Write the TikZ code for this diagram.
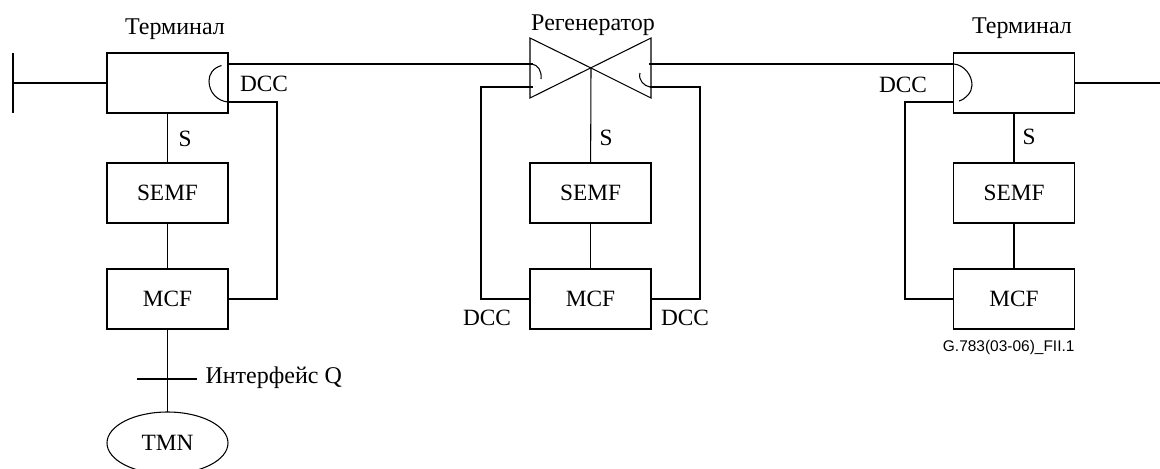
\documentclass[tikz,border=0pt]{standalone}
\usepackage{fontspec}
\setmainfont{Liberation Serif}
\newfontfamily\figfont{Liberation Sans}
\newcommand{\boxfont}{\fontsize{17.5}{20}\selectfont}
\usetikzlibrary{positioning, shapes.geometric}

\begin{document}
\begin{tikzpicture}[
  x=0.75pt, y=-0.75pt,
  line width=0.8pt,
  node distance=37.5pt and 0pt,
  box/.style={draw, outer sep=0pt, minimum width=90.75pt, minimum height=45pt, inner sep=0pt, font=\boxfont},
  oval/.style={draw, ellipse, outer sep=0pt, minimum width=90.75pt, minimum height=46.5pt, inner sep=0pt, font=\boxfont},
  lbl/.style={inner sep=0pt, font=\boxfont},
  cyr/.style={inner sep=0pt, font=\fontsize{18}{20}\selectfont}
]
\useasboundingbox (0,0) rectangle (1160,468);

% left terminal
\node[box] (termA) at (167.5,83) {};
\node[box, below=of termA] (semfA) {SEMF};
\node[box, below=34.5pt of semfA] (mcfA) {MCF};
\node[oval] (tmn) at (167.5,443) {TMN};
\coordinate (barT) at (13,53);
\coordinate (barB) at (13,113);
\coordinate (barA) at (13,83);
\coordinate (qA) at (137,379);
\coordinate (qB) at (197,379);
\coordinate (outA) at (228,64);
\coordinate (backA) at (228,102);
\coordinate (backB) at (277,102);
\coordinate (backC) at (277,299);

% regenerator
\coordinate (regC) at (591,68);
\coordinate (regNW) at (530,38);
\coordinate (regSW) at (530,98);
\coordinate (regNE) at (651,38);
\coordinate (regSE) at (651,98);
\node[box] (semfB) at (590.5,193) {SEMF};
\node[box, below=34.5pt of semfB] (mcfB) {MCF};
\coordinate (inL) at (533,64);
\coordinate (inR) at (649,64);
\coordinate (loopLa) at (533,87);
\coordinate (loopLb) at (481,87);
\coordinate (loopLc) at (481,299);
\coordinate (loopRa) at (650,87);
\coordinate (loopRb) at (700,87);
\coordinate (loopRc) at (700,299);

% right terminal
\node[box] (termB) at (1014,83) {};
\node[box, below=of termB] (semfC) {SEMF};
\node[box, below=34.5pt of semfC] (mcfC) {MCF};
\coordinate (outB) at (954,64);
\coordinate (endB) at (1160,83);
\coordinate (backD) at (954,102);
\coordinate (backE) at (905,102);
\coordinate (backF) at (905,299);

% triangles
\draw (regC) -- (regNW) -- (regSW) -- (regNE) -- (regSE) -- cycle;

% lines
\draw (barT) -- (barB);
\draw (barA) -- (termA.west);
\draw (termA) -- (semfA);
\draw (semfA) -- (mcfA);
\draw (mcfA) -- (tmn);
\draw (qA) -- (qB);
\draw (outA) -- (inL);
\draw (backA) -- (backB) -- (backC) -- (mcfA.east |- backC);
\draw (regC) -- (semfB);
\draw (semfB) -- (mcfB);
\draw (loopLa) -- (loopLb) -- (loopLc) -- (mcfB.west |- loopLc);
\draw (loopRa) -- (loopRb) -- (loopRc) -- (mcfB.east |- loopRc);
\draw (inR) -- (outB);
\draw (termB.east) -- (endB);
\draw (termB) -- (semfC);
\draw (semfC) -- (mcfC);
\draw (backD) -- (backE) -- (backF) -- (mcfC.west |- backF);

% arcs
\draw (221.5,65.5) .. controls (213,68) and (209,74) .. (209,81) .. controls (209,92) and (217,101) .. (228,102);
\draw (532,64) .. controls (538,65) and (542,71) .. (541,79);
\draw (650,87) .. controls (644,86) and (638,80) .. (640,73);
\draw (954,64) .. controls (964,65) and (972,75) .. (972,85) .. controls (972,92) and (966,99) .. (959,101);

% labels
\node[cyr] (lblA) at (175,29) {Терминал};
\node[cyr] (lblB) at (593,25) {Регенератор};
\node[cyr] (lblC) at (1022,28.5) {Терминал};
\node[lbl] (dccA) at (264,84) {DCC};
\node[lbl] (dccB) at (487,318) {DCC};
\node[lbl] (dccC) at (685,318) {DCC};
\node[lbl] (dccD) at (903,85) {DCC};
\node[lbl] (sigA) at (185,139) {S};
\node[lbl] (sigB) at (606,138) {S};
\node[lbl] (sigC) at (1029,137) {S};
\node[cyr, anchor=west] (ifQ) at (205,378) {Интерфейс Q};
\node[inner sep=0pt, anchor=east, font=\figfont\fontsize{11.6}{13}\selectfont] (figno) at (1075,347) {G.783(03-06)\_FII.1};
\end{tikzpicture}
\end{document}
